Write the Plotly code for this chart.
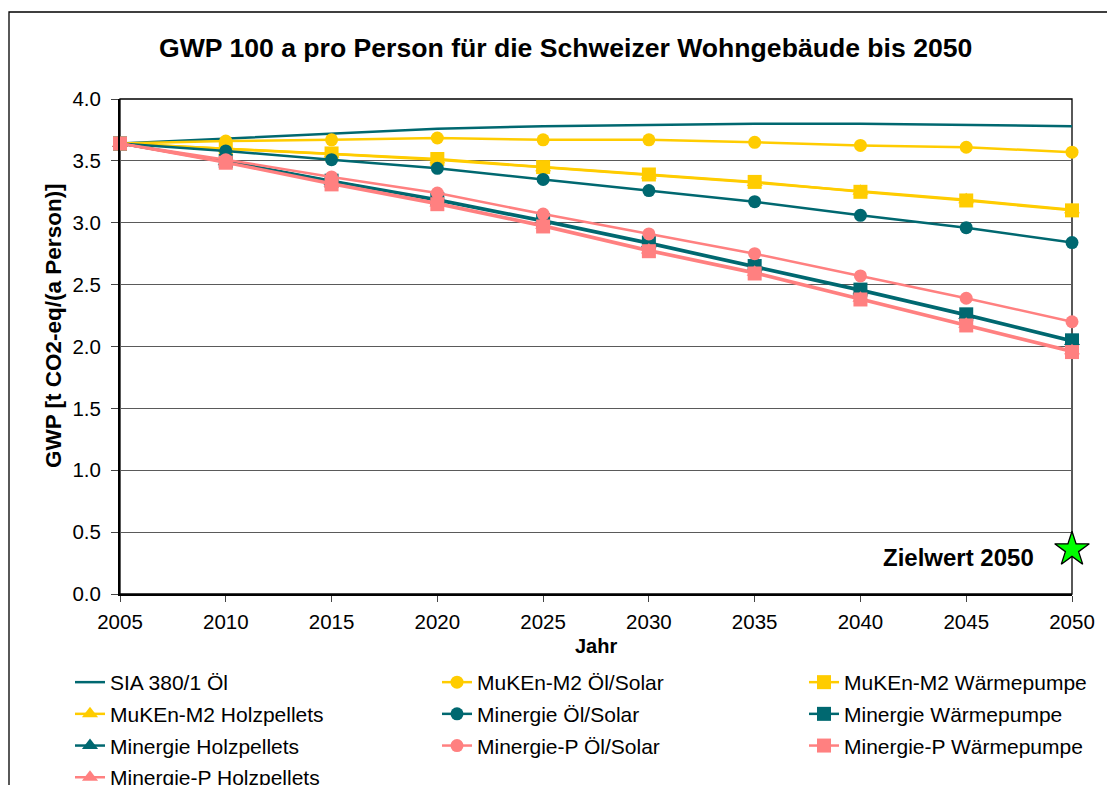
import plotly.graph_objects as go

years = [2005, 2010, 2015, 2020, 2025, 2030, 2035, 2040, 2045, 2050]

sia_oel = [3.64, 3.68, 3.72, 3.76, 3.78, 3.79, 3.80, 3.80, 3.79, 3.78]
muken_oel_solar = [3.64, 3.66, 3.67, 3.685, 3.67, 3.67, 3.65, 3.625, 3.61, 3.57]
muken_wp = [3.64, 3.60, 3.56, 3.515, 3.45, 3.39, 3.33, 3.25, 3.18, 3.10]
muken_holz = [3.64, 3.60, 3.555, 3.51, 3.445, 3.385, 3.325, 3.255, 3.185, 3.105]
minergie_oel_solar = [3.64, 3.58, 3.51, 3.44, 3.35, 3.26, 3.17, 3.06, 2.96, 2.84]
minergie_wp = [3.64, 3.50, 3.34, 3.19, 3.02, 2.84, 2.65, 2.46, 2.26, 2.05]
minergie_holz = [3.64, 3.495, 3.335, 3.18, 3.01, 2.83, 2.64, 2.45, 2.25, 2.04]
minp_oel_solar = [3.64, 3.51, 3.37, 3.24, 3.07, 2.91, 2.75, 2.57, 2.39, 2.20]
minp_wp = [3.64, 3.485, 3.31, 3.15, 2.97, 2.77, 2.59, 2.38, 2.17, 1.955]
minp_holz = [3.64, 3.49, 3.32, 3.16, 2.98, 2.78, 2.60, 2.39, 2.18, 1.965]

target_year = [2050]
target_value = [0.36]

TEAL = "#006870"
YELLOW = "#FFCC00"
PINK = "#FF8080"
FONT = "Liberation Sans, Arial, sans-serif"

# (name, values, colour, marker symbol, legend column)
series = [
    ("SIA 380/1 Öl", sia_oel, TEAL, None, "legend"),
    ("MuKEn-M2 Öl/Solar", muken_oel_solar, YELLOW, "circle", "legend2"),
    ("MuKEn-M2 Wärmepumpe", muken_wp, YELLOW, "square", "legend3"),
    ("MuKEn-M2 Holzpellets", muken_holz, YELLOW, "triangle-up", "legend"),
    ("Minergie Öl/Solar", minergie_oel_solar, TEAL, "circle", "legend2"),
    ("Minergie Wärmepumpe", minergie_wp, TEAL, "square", "legend3"),
    ("Minergie Holzpellets", minergie_holz, TEAL, "triangle-up", "legend"),
    ("Minergie-P Öl/Solar", minp_oel_solar, PINK, "circle", "legend2"),
    ("Minergie-P Wärmepumpe", minp_wp, PINK, "square", "legend3"),
    ("Minergie-P Holzpellets", minp_holz, PINK, "triangle-up", "legend"),
]

fig = go.Figure()
for i, (name, vals, col, sym, leg) in enumerate(series):
    if sym is None:
        fig.add_trace(go.Scatter(x=years, y=vals, name=name, mode="lines",
                                 line=dict(color=col, width=2.5), legend=leg,
                                 legendgroup=f"g{i}", cliponaxis=False))
    else:
        size = 13 if sym == "circle" else 14
        fig.add_trace(go.Scatter(x=years, y=vals, name=name, mode="lines+markers",
                                 line=dict(color=col, width=2.5),
                                 marker=dict(symbol=sym, size=size, color=col),
                                 legend=leg, legendgroup=f"g{i}", cliponaxis=False))

fig.add_trace(go.Scatter(x=target_year, y=target_value, mode="markers",
                         marker=dict(symbol="star", size=26, color="#00FF00",
                                     line=dict(color="black", width=1.3)),
                         showlegend=False, cliponaxis=False))

L, R, T, B = 120, 35, 99, 191
W, H = 1107, 785
pw, ph = W - L - R, H - T - B


def px_x(p):
    return (p - L) / pw


def px_y(p):
    return (H - B - p) / ph


leg_common = dict(orientation="v", xanchor="left", yanchor="top",
                  font=dict(family=FONT, size=21, color="black"),
                  bgcolor="rgba(0,0,0,0)", tracegroupgap=1.4,
                  traceorder="grouped")
leg_top = px_y(662)

fig.update_layout(
    width=W, height=H,
    margin=dict(l=L, r=R, t=T, b=B, autoexpand=False),
    paper_bgcolor="white", plot_bgcolor="white",
    font=dict(family=FONT, size=20, color="black"),
    showlegend=True,
    legend=dict(x=px_x(70), y=leg_top, **leg_common),
    legend2=dict(x=px_x(437), y=leg_top, **leg_common),
    legend3=dict(x=px_x(804), y=leg_top, **leg_common),
    xaxis=dict(range=[2005, 2050], tickvals=years, ticks="outside", ticklen=6,
               tickcolor="#444", showgrid=False, showline=True, linecolor="black",
               linewidth=2, zeroline=False, ticklabelstandoff=2,
               tickfont=dict(family=FONT, size=20.5)),
    yaxis=dict(range=[0, 4], dtick=0.5, tickformat=".1f", ticks="outside", ticklen=7,
               tickcolor="#444", showgrid=True, gridcolor="#5a5a5a", gridwidth=1,
               showline=True, linecolor="black", linewidth=2, zeroline=False,
               ticklabelstandoff=6,
               tickfont=dict(family=FONT, size=20.5)),
    shapes=[
        dict(type="rect", xref="paper", yref="paper", x0=0, x1=1, y0=0, y1=1,
             line=dict(color="black", width=1.3), layer="below"),
        dict(type="rect", xref="paper", yref="paper", x0=px_x(9), x1=px_x(1200),
             y0=px_y(900), y1=px_y(12), line=dict(color="black", width=1.3),
             layer="below"),
    ],
    annotations=[
        dict(text="<b>GWP 100 a pro Person für die Schweizer Wohngebäude bis 2050</b>",
             xref="paper", yref="paper", x=px_x(565), y=px_y(48),
             xanchor="center", yanchor="middle", showarrow=False,
             font=dict(family=FONT, size=26.6, color="black")),
        dict(text="<b>GWP [t CO2-eq/(a Person)]</b>", textangle=-90,
             xref="paper", yref="paper", x=px_x(53), y=px_y(326),
             xanchor="center", yanchor="middle", showarrow=False,
             font=dict(family=FONT, size=22.5, color="black")),
        dict(text="<b>Jahr</b>", xref="paper", yref="paper",
             x=px_x(596), y=px_y(646), xanchor="center", yanchor="middle",
             showarrow=False, font=dict(family=FONT, size=20, color="black")),
        dict(text="<b>Zielwert 2050</b>", xref="paper", yref="paper",
             x=px_x(958), y=px_y(557), xanchor="center", yanchor="middle",
             showarrow=False, font=dict(family=FONT, size=24, color="black")),
    ],
)

fig.write_html("out.html", config={"displayModeBar": False},
               post_script="document.body.style.margin='0px';document.body.style.overflow='hidden';")
